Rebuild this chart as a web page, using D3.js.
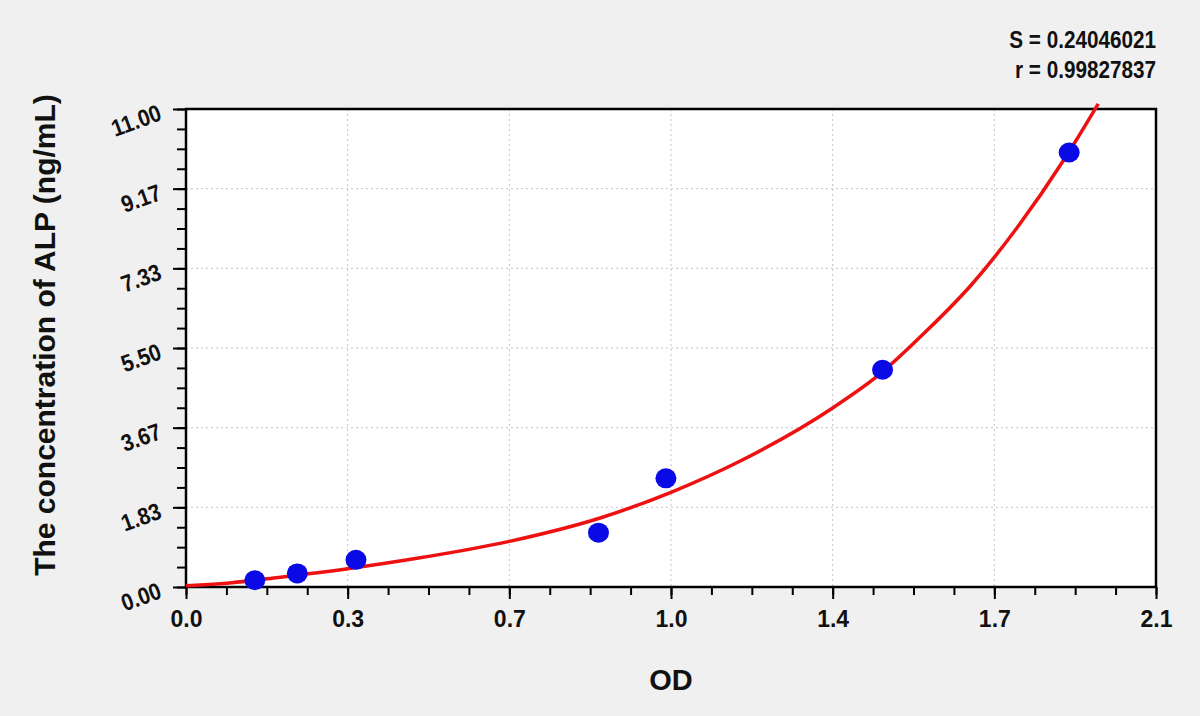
<!DOCTYPE html>
<html>
<head>
<meta charset="utf-8">
<script src="https://cdn.jsdelivr.net/npm/d3@7"></script>
<style>
  body { margin: 0; background: #f0f0f0; }
  text { font-family: "Liberation Sans", Arial, sans-serif; font-weight: bold; fill: #111; }
</style>
</head>
<body>
<div id="canvas"></div>
<script>
const canvWidth = 1200, canvHeight = 716;

// standards: OD, concentration in ng/mL
const odValues = [0.149, 0.241, 0.368, 0.893, 1.039, 1.508, 1.912];
const concValues = [0.156, 0.312, 0.625, 1.25, 2.5, 5, 10];

// fitted curve
const curveOD = [0, 0.1, 0.2, 0.35, 0.5, 0.7, 0.9, 1.05, 1.2, 1.4, 1.5, 1.6, 1.7, 1.8, 1.9, 1.975];
const curveConc = [0.03, 0.10, 0.22, 0.42, 0.66, 1.05, 1.60, 2.18, 2.90, 4.12, 4.88, 5.86, 6.95, 8.28, 9.82, 11.12];

// axis ticks
const xTickValues = [0, 0.35, 0.7, 1.05, 1.4, 1.75, 2.1];
const xTickLabels = ["0.0", "0.3", "0.7", "1.0", "1.4", "1.7", "2.1"];
const yTickValues = [0, 11 / 6, 22 / 6, 33 / 6, 44 / 6, 55 / 6, 11];
const yTickLabels = ["0.00", "1.83", "3.67", "5.50", "7.33", "9.17", "11.00"];

const statLines = ["S = 0.24046021", "r = 0.99827837"];

const margin = {top: 109, right: 44, bottom: 129, left: 186};
const width = canvWidth - margin.left - margin.right;
const height = canvHeight - margin.top - margin.bottom;

const svg = d3.select("#canvas").append("svg")
    .attr("width", canvWidth)
    .attr("height", canvHeight)
    .style("background", "#f0f0f0");

const x = d3.scaleLinear().domain([0, 2.1]).range([0, width]);
const y = d3.scaleLinear().domain([0, 11]).range([height, 0]);

const g = svg.append("g")
    .attr("transform", "translate(" + margin.left + "," + margin.top + ")");

g.append("rect")
    .attr("width", width)
    .attr("height", height)
    .attr("fill", "#fff");

// dotted grid
g.append("g").selectAll("line")
    .data(xTickValues.slice(1, -1))
    .enter().append("line")
    .attr("x1", d => x(d)).attr("x2", d => x(d))
    .attr("y1", 0).attr("y2", height)
    .attr("stroke", "#c4c4c4").attr("stroke-dasharray", "2,3");

g.append("g").selectAll("line")
    .data(yTickValues.slice(1, -1))
    .enter().append("line")
    .attr("y1", d => y(d)).attr("y2", d => y(d))
    .attr("x1", 0).attr("x2", width)
    .attr("stroke", "#c4c4c4").attr("stroke-dasharray", "2,3");

// minor ticks
const xMinor = d3.range(0, 24.5).map(i => i * 2.1 / 24);
const yMinor = d3.range(0, 24.5).map(i => i * 11 / 24);

g.append("g")
    .attr("transform", "translate(0," + height + ")")
    .call(d3.axisBottom(x).tickValues(xMinor).tickSize(8).tickFormat(""))
    .call(a => a.select(".domain").remove())
    .selectAll("line").attr("stroke", "#000").attr("stroke-width", 2);

g.append("g")
    .call(d3.axisLeft(y).tickValues(yMinor).tickSize(9).tickFormat(""))
    .call(a => a.select(".domain").remove())
    .selectAll("line").attr("stroke", "#000").attr("stroke-width", 2);

// major ticks
const xAxis = g.append("g")
    .attr("transform", "translate(0," + height + ")")
    .call(d3.axisBottom(x).tickValues(xTickValues).tickSize(12)
        .tickFormat((d, i) => xTickLabels[i]));
xAxis.select(".domain").remove();
xAxis.selectAll("line").attr("stroke", "#000").attr("stroke-width", 2);
xAxis.selectAll("text")
    .attr("y", 40)
    .attr("dy", null)
    .style("font-size", "23px")
    .style("font-family", "'Liberation Sans', Arial, sans-serif")
    .style("font-weight", "bold")
    .attr("fill", "#111");

const yAxis = g.append("g")
    .call(d3.axisLeft(y).tickValues(yTickValues).tickSize(13)
        .tickFormat((d, i) => yTickLabels[i]));
yAxis.select(".domain").remove();
yAxis.selectAll("line").attr("stroke", "#000").attr("stroke-width", 2);
yAxis.selectAll("text")
    .attr("x", null).attr("dy", null)
    .attr("transform", "translate(-23,10) rotate(-20) scale(0.95,1.08)")
    .attr("text-anchor", "end")
    .style("font-size", "22px")
    .style("font-family", "'Liberation Sans', Arial, sans-serif")
    .style("font-weight", "bold")
    .attr("fill", "#111");

// frame
g.append("rect")
    .attr("width", width)
    .attr("height", height)
    .attr("fill", "none")
    .attr("stroke", "#000")
    .attr("stroke-width", 2.5);

// fitted curve
const line = d3.line()
    .x((d, i) => x(curveOD[i]))
    .y(d => y(d))
    .curve(d3.curveMonotoneX);

g.append("path")
    .datum(curveConc)
    .attr("d", line)
    .attr("fill", "none")
    .attr("stroke", "#ee1111")
    .attr("stroke-width", 3.5);

// standards
g.append("g").selectAll("ellipse")
    .data(concValues)
    .enter().append("ellipse")
    .attr("cx", (d, i) => x(odValues[i]))
    .attr("cy", d => y(d))
    .attr("rx", 10.5)
    .attr("ry", 10)
    .attr("fill", "#0a0ae6");

// labels
svg.append("text")
    .attr("x", margin.left + width / 2)
    .attr("y", 690)
    .attr("text-anchor", "middle")
    .style("font-size", "29px")
    .text("OD");

svg.append("text")
    .attr("transform", "translate(55,335) rotate(-90)")
    .attr("text-anchor", "middle")
    .style("font-size", "30px")
    .text("The concentration of ALP (ng/mL)");

svg.selectAll(".stat")
    .data(statLines)
    .enter().append("text")
    .attr("class", "stat")
    .attr("transform", (d, i) => "translate(1156," + (48 + i * 30) + ") scale(0.9,1)")
    .attr("text-anchor", "end")
    .style("font-size", "23px")
    .text(d => d);
</script>
</body>
</html>
